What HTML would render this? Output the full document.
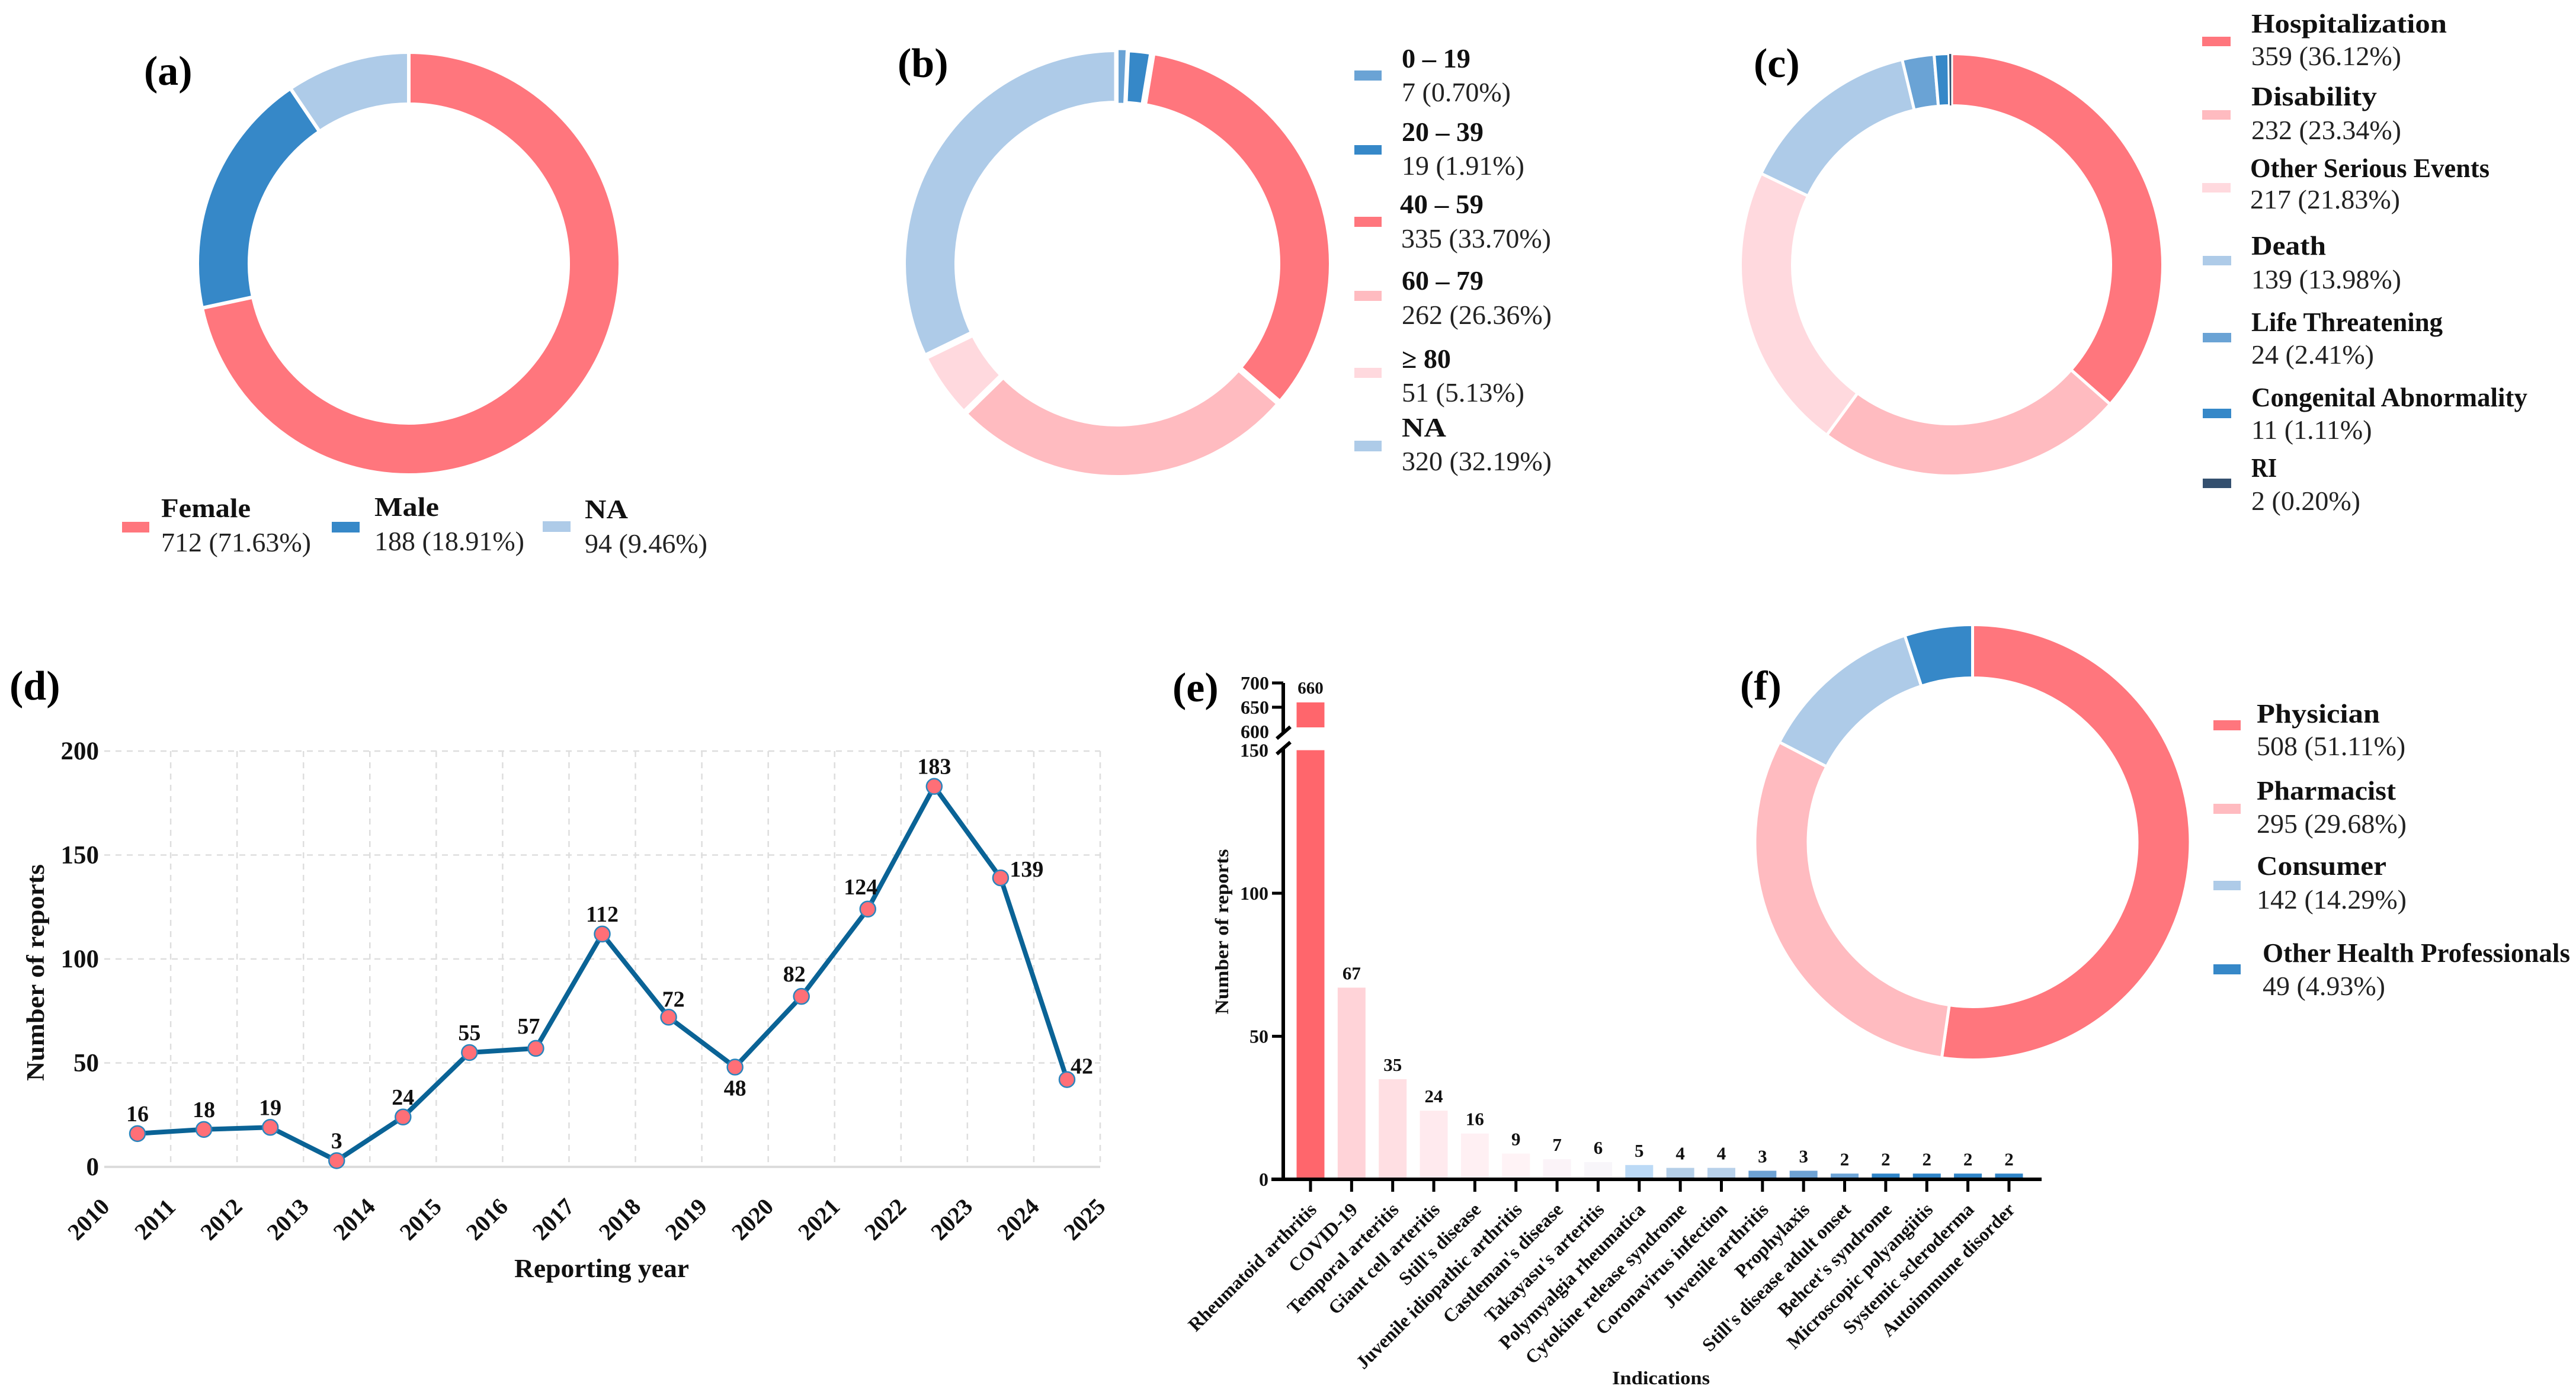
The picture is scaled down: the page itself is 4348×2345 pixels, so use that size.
<!DOCTYPE html>
<html lang="en">
<head>
<meta charset="utf-8">
<title>Report characteristics</title>
<style>
html,body{margin:0;padding:0;background:#fff}
svg{display:block}
text{font-family:"Liberation Serif",serif;fill:#111}
.lb{font-size:46px;font-weight:bold;fill:#111}
.lv{font-size:46px;fill:#222}
.pl{font-size:70px;font-weight:bold;fill:#000}
</style>
</head>
<body>
<svg id="figure" xmlns="http://www.w3.org/2000/svg" width="4348" height="2345" viewBox="0 0 4348 2345">
<rect x="0" y="0" width="4348" height="2345" fill="#fff"/>
<g id="donut-a"></g>
<g id="donut-b"></g>
<g id="donut-c"></g>
<g id="donut-f"></g>
<g id="line-d"></g>
<g id="bars-e"></g>

<text class="pl" x="243" y="143">(a)</text>
<text class="pl" x="1515" y="130">(b)</text>
<text class="pl" x="2960" y="130">(c)</text>
<text class="pl" x="16" y="1181">(d)</text>
<text class="pl" x="1979" y="1184">(e)</text>
<text class="pl" x="2937" y="1181">(f)</text>

<g>
<g><rect x="206" y="881" width="46" height="18" fill="#ff767d"/><text class="lb" x="272" y="873" textLength="151" lengthAdjust="spacingAndGlyphs">Female</text><text class="lv" x="272" y="931">712 (71.63%)</text></g>
<g><rect x="560" y="881" width="47" height="18" fill="#3688c8"/><text class="lb" x="632" y="871" textLength="109" lengthAdjust="spacingAndGlyphs">Male</text><text class="lv" x="632" y="929">188 (18.91%)</text></g>
<g><rect x="916" y="880" width="47" height="18" fill="#aecbe8"/><text class="lb" x="987" y="875" textLength="73" lengthAdjust="spacingAndGlyphs">NA</text><text class="lv" x="987" y="933">94 (9.46%)</text></g>
</g>

<g>
<g><rect x="2286" y="119" width="46" height="17" fill="#6aa3d5"/><text class="lb" x="2366" y="114" textLength="116" lengthAdjust="spacingAndGlyphs">0 – 19</text><text class="lv" x="2366" y="171">7 (0.70%)</text></g>
<g><rect x="2286" y="245" width="46" height="16" fill="#3688c8"/><text class="lb" x="2366" y="238" textLength="138" lengthAdjust="spacingAndGlyphs">20 – 39</text><text class="lv" x="2366" y="295">19 (1.91%)</text></g>
<g><rect x="2286" y="366" width="46" height="17" fill="#ff767d"/><text class="lb" x="2363" y="360" textLength="141" lengthAdjust="spacingAndGlyphs">40 – 59</text><text class="lv" x="2365" y="418">335 (33.70%)</text></g>
<g><rect x="2286" y="491" width="46" height="17" fill="#ffbbc0"/><text class="lb" x="2366" y="489" textLength="138" lengthAdjust="spacingAndGlyphs">60 – 79</text><text class="lv" x="2366" y="547">262 (26.36%)</text></g>
<g><rect x="2286" y="621" width="46" height="17" fill="#ffd9de"/><text class="lb" x="2366" y="621" textLength="83" lengthAdjust="spacingAndGlyphs">≥ 80</text><text class="lv" x="2366" y="678">51 (5.13%)</text></g>
<g><rect x="2286" y="744" width="46" height="18" fill="#aecbe8"/><text class="lb" x="2366" y="737" textLength="75" lengthAdjust="spacingAndGlyphs">NA</text><text class="lv" x="2366" y="794">320 (32.19%)</text></g>
</g>

<g>
<g><rect x="3717" y="62" width="48" height="16" fill="#ff767d"/><text class="lb" x="3800" y="55" textLength="330" lengthAdjust="spacingAndGlyphs">Hospitalization</text><text class="lv" x="3800" y="110">359 (36.12%)</text></g>
<g><rect x="3717" y="186" width="48" height="16" fill="#ffbbc0"/><text class="lb" x="3800" y="178" textLength="212" lengthAdjust="spacingAndGlyphs">Disability</text><text class="lv" x="3800" y="235">232 (23.34%)</text></g>
<g><rect x="3717" y="309" width="48" height="16" fill="#ffd9de"/><text class="lb" x="3798" y="299" textLength="404" lengthAdjust="spacingAndGlyphs">Other Serious Events</text><text class="lv" x="3798" y="352">217 (21.83%)</text></g>
<g><rect x="3718" y="432" width="48" height="16" fill="#aecbe8"/><text class="lb" x="3800" y="430" textLength="126" lengthAdjust="spacingAndGlyphs">Death</text><text class="lv" x="3800" y="487">139 (13.98%)</text></g>
<g><rect x="3718" y="562" width="48" height="16" fill="#6aa3d5"/><text class="lb" x="3800" y="559" textLength="323" lengthAdjust="spacingAndGlyphs">Life Threatening</text><text class="lv" x="3800" y="614">24 (2.41%)</text></g>
<g><rect x="3718" y="690" width="48" height="16" fill="#3688c8"/><text class="lb" x="3800" y="686" textLength="466" lengthAdjust="spacingAndGlyphs">Congenital Abnormality</text><text class="lv" x="3800" y="741">11 (1.11%)</text></g>
<g><rect x="3718" y="808" width="48" height="16" fill="#34506f"/><text class="lb" x="3800" y="805" textLength="43" lengthAdjust="spacingAndGlyphs">RI</text><text class="lv" x="3800" y="861">2 (0.20%)</text></g>
</g>

<g>
<g><rect x="3736" y="1216" width="46" height="17" fill="#ff767d"/><text class="lb" x="3809" y="1220" textLength="208" lengthAdjust="spacingAndGlyphs">Physician</text><text class="lv" x="3809" y="1275">508 (51.11%)</text></g>
<g><rect x="3736" y="1357" width="46" height="17" fill="#ffbbc0"/><text class="lb" x="3809" y="1350" textLength="235" lengthAdjust="spacingAndGlyphs">Pharmacist</text><text class="lv" x="3809" y="1406">295 (29.68%)</text></g>
<g><rect x="3736" y="1487" width="46" height="16" fill="#aecbe8"/><text class="lb" x="3809" y="1477" textLength="219" lengthAdjust="spacingAndGlyphs">Consumer</text><text class="lv" x="3809" y="1534">142 (14.29%)</text></g>
<g><rect x="3736" y="1628" width="46" height="17" fill="#3688c8"/><text class="lb" x="3819" y="1624" textLength="519" lengthAdjust="spacingAndGlyphs">Other Health Professionals</text><text class="lv" x="3819" y="1680">49 (4.93%)</text></g>
</g>
</svg>

<script>
// Panel (a) sex
const sexLabels = ['Female', 'Male', 'NA'];
const sexCounts = [712, 188, 94];
// Panel (b) age
const ageLabels = ['0-19', '20-39', '40-59', '60-79', '80-plus', 'NA'];
const ageCounts = [7, 19, 335, 262, 51, 320];
// Panel (c) outcome
const outcomeLabels = ['Hospitalization', 'Disability', 'Other Serious Events', 'Death', 'Life Threatening', 'Congenital Abnormality', 'RI'];
const outcomeCounts = [359, 232, 217, 139, 24, 11, 2];
// Panel (f) reporter: the Consumer arc in the picture reads about 120, smaller than its printed count of 142
const reporterLabels = ['Physician', 'Pharmacist', 'Consumer', 'Other Health Professionals'];
const reporterCounts = [508, 295, 120, 49];
// Panel (d) yearly reports
const yearTickLabels = ['2010', '2011', '2012', '2013', '2014', '2015', '2016', '2017', '2018', '2019', '2020', '2021', '2022', '2023', '2024', '2025'];
const yearlyReports = [16, 18, 19, 3, 24, 55, 57, 112, 72, 48, 82, 124, 183, 139, 42];
const reportTicks = [0, 50, 100, 150, 200];
const yearlyLabelSides = ['above', 'above', 'above', 'above', 'above', 'above', 'aboveleft', 'above', 'aboveright', 'below', 'aboveleft', 'aboveleft', 'above', 'right', 'upright'];
// Panel (e) indications
const indicationNames = ['Rheumatoid arthritis', 'COVID-19', 'Temporal arteritis', 'Giant cell arteritis', "Still's disease", 'Juvenile idiopathic arthritis', "Castleman's disease", "Takayasu's arteritis", 'Polymyalgia rheumatica', 'Cytokine release syndrome', 'Coronavirus infection', 'Juvenile arthritis', 'Prophylaxis', "Still's disease adult onset", "Behcet's syndrome", 'Microscopic polyangiitis', 'Systemic scleroderma', 'Autoimmune disorder'];
const indicationCounts = [660, 67, 35, 24, 16, 9, 7, 6, 5, 4, 4, 3, 3, 2, 2, 2, 2, 2];
const lowerTicks = [0, 50, 100, 150];
const upperTicks = [600, 650, 700];

const sexPalette = ['#ff767d', '#3688c8', '#aecbe8'];
const agePalette = ['#6aa3d5', '#3688c8', '#ff767d', '#ffbbc0', '#ffd9de', '#aecbe8'];
const outcomePalette = ['#ff767d', '#ffbbc0', '#ffd9de', '#aecbe8', '#6aa3d5', '#3688c8', '#34506f'];
const reporterPalette = ['#ff767d', '#ffbbc0', '#aecbe8', '#3688c8'];
const barPalette = ['#ff666c', '#ffd3d8', '#ffdfe3', '#ffeaee', '#fff0f3', '#fff3f6', '#fbf3f8', '#f8f6fa', '#bcdaf6', '#b5cfe8', '#b8d1ea', '#6ea2d3', '#6ea2d3', '#6da4d6', '#2f84c8', '#2f84c8', '#2f84c8', '#2f84c8'];

const NS = 'http://www.w3.org/2000/svg';
function mk(tag, attrs, parent, txt) {
  const n = document.createElementNS(NS, tag);
  for (const k in attrs) n.setAttribute(k, attrs[k]);
  if (txt !== undefined) n.textContent = txt;
  parent.appendChild(n);
  return n;
}
function slug(s) {
  return String(s).toLowerCase().replace(/[^a-z0-9]+/g, '-').replace(/^-|-$/g, '');
}

function drawDonut(groupId, labels, counts, palette, cx, cy, rOut, rIn, gap) {
  const g = document.getElementById(groupId);
  const total = counts.reduce((a, b) => a + b, 0);
  let acc = 0;
  const pieces = counts.map((v, i) => {
    const a0 = acc / total * 2 * Math.PI;
    acc += v;
    const a1 = acc / total * 2 * Math.PI;
    return { i, a0, a1, arc: (a1 - a0) * rOut };
  });
  pieces.sort((p, q) => q.arc - p.arc);
  pieces.forEach(p => {
    const sw = Math.min(gap, p.arc * 0.25);
    const R = rOut + gap / 2, r = rIn - gap / 2;
    const large = p.a1 - p.a0 > Math.PI ? 1 : 0;
    const pt = (rad, a) => (cx + rad * Math.sin(a)).toFixed(2) + ' ' + (cy - rad * Math.cos(a)).toFixed(2);
    const d = 'M' + pt(R, p.a0) + 'A' + R + ' ' + R + ' 0 ' + large + ' 1 ' + pt(R, p.a1) +
      'L' + pt(r, p.a1) + 'A' + r + ' ' + r + ' 0 ' + large + ' 0 ' + pt(r, p.a0) + 'Z';
    const s = mk('path', { d: d, fill: palette[p.i], stroke: '#fff', 'stroke-width': sw }, g);
    
    
  });
}
drawDonut('donut-a', sexLabels, sexCounts, sexPalette, 690, 445, 354, 272, 6);
drawDonut('donut-b', ageLabels, ageCounts, agePalette, 1886, 445, 357, 275, 11);
drawDonut('donut-c', outcomeLabels, outcomeCounts, outcomePalette, 3294, 447, 354, 271, 5);
drawDonut('donut-f', reporterLabels, reporterCounts, reporterPalette, 3329.5, 1422, 365, 280, 5);

// ---- Panel (d) ----
(function () {
  const g = document.getElementById('line-d');
  const x0 = 176, x1 = 1857, yBase = 1970, yTop = 1268;
  const step = (x1 - x0) / yearlyReports.length;
  const xTick = i => x0 + i * step;
  const xPoint = i => x0 + (i + 0.5) * step;
  const yVal = v => yBase - v / 200 * (yBase - yTop);

  yearTickLabels.forEach((lab, i) => {
    if (i > 0) {
      const gl = mk('line', { x1: xTick(i), x2: xTick(i), y1: yTop, y2: yBase, stroke: '#dedede', 'stroke-width': 2.5, 'stroke-dasharray': '10 9' }, g);
      
      
    }
    const t = mk('text', { transform: 'translate(' + (xTick(i) - 27) + ' 2058) rotate(-45)', y: 14, 'text-anchor': 'middle', 'font-size': 40, 'font-weight': 'bold' }, g, lab);
    
    
  });
  reportTicks.forEach(v => {
    if (v > 0) {
      const gl = mk('line', { x1: x0, x2: x1, y1: yVal(v), y2: yVal(v), stroke: '#dedede', 'stroke-width': 2.5, 'stroke-dasharray': '10 9' }, g);
      
      
    }
    const t = mk('text', { x: 167, y: yVal(v) + 14, 'text-anchor': 'end', 'font-size': 43, 'font-weight': 'bold' }, g, v);
    
    
  });
  const base = mk('line', { x1: x0, x2: x1, y1: yBase, y2: yBase, stroke: '#dcdcdc', 'stroke-width': 4 }, g);
  
  

  const pts = yearlyReports.map((v, i) => xPoint(i).toFixed(1) + ',' + yVal(v).toFixed(1)).join(' ');
  const line = mk('polyline', { points: pts, fill: 'none', stroke: '#0a6396', 'stroke-width': 8, 'stroke-linejoin': 'round' }, g);
  
  

  const sideDx = { above: 0, below: 0, right: 44, upright: 25, aboveright: 8, aboveleft: -12 };
  const sideDy = { above: -21, below: 48, right: -2, upright: -10, aboveright: -18, aboveleft: -25 };
  yearlyReports.forEach((v, i) => {
    const m = mk('circle', { cx: xPoint(i), cy: yVal(v), r: 13, fill: '#ff6f77', stroke: '#2a85bd', 'stroke-width': 2.5 }, g);
    
    
    const side = yearlyLabelSides[i];
    const t = mk('text', { x: xPoint(i) + sideDx[side], y: yVal(v) + sideDy[side], 'text-anchor': 'middle', 'font-size': 38, 'font-weight': 'bold' }, g, v);
    
    
  });
  const yt = mk('text', { transform: 'translate(74 1642) rotate(-90)', 'text-anchor': 'middle', 'font-size': 42, 'font-weight': 'bold', textLength: 366, lengthAdjust: 'spacingAndGlyphs' }, g, 'Number of reports');
  
  
  const xt = mk('text', { x: 868, y: 2156, 'font-size': 44, 'font-weight': 'bold', textLength: 295, lengthAdjust: 'spacingAndGlyphs' }, g, 'Reporting year');
  
  
})();

// ---- Panel (e) ----
(function () {
  const g = document.getElementById('bars-e');
  const axisX = 2166, yZero = 1991, barW = 47;
  const xBar = i => 2212 + i * 69.35;
  const yLower = v => yZero - v * 4.83;
  const yUpper = v => 1194 - (v - 650) * 0.82;
  const breakLow = 150, breakHigh = 600;

  indicationCounts.forEach((v, i) => {
    const cx = xBar(i);
    const low = mk('rect', { x: cx - barW / 2, y: yLower(Math.min(v, breakLow)), width: barW, height: yZero - yLower(Math.min(v, breakLow)), fill: barPalette[i] }, g);
    
    
    let top = yLower(v);
    let size = 31;
    if (v > breakLow) {
      const up = mk('rect', { x: cx - barW / 2, y: yUpper(v), width: barW, height: yUpper(breakHigh) - yUpper(v) - 7, fill: barPalette[i] }, g);
      
      
      top = yUpper(v);
      size = 29;
    }
    const t = mk('text', { x: cx, y: top - (v > breakLow ? 15 : 14), 'text-anchor': 'middle', 'font-size': size, 'font-weight': 'bold' }, g, v);
    
    
    const tick = mk('line', { x1: cx, x2: cx, y1: yZero, y2: 2012, stroke: '#000', 'stroke-width': 5 }, g);
    
    
    const lab = mk('text', { transform: 'translate(' + (cx + 12) + ' 2044) rotate(-45)', 'text-anchor': 'end', 'font-size': 32, 'font-weight': 'bold' }, g, indicationNames[i]);
    
    
  });

  const axes = [[axisX, 1153, axisX, 1236], [axisX, 1264, axisX, yZero + 3], [2146, yZero, 3446, yZero], [2155, 1247, 2178, 1227], [2155, 1273, 2178, 1253]];
  axes.forEach(a => {
    const l = mk('line', { x1: a[0], y1: a[1], x2: a[2], y2: a[3], stroke: '#000', 'stroke-width': 6 }, g);
    
    
  });
  lowerTicks.forEach(v => {
    if (v > 0 && v < breakLow) {
      const l = mk('line', { x1: 2147, x2: axisX, y1: yLower(v), y2: yLower(v), stroke: '#000', 'stroke-width': 5 }, g);
      
      
    }
    const t = mk('text', { x: 2141, y: yLower(v) + 11, 'text-anchor': 'end', 'font-size': 32, 'font-weight': 'bold' }, g, v);
    
    
  });
  upperTicks.forEach(v => {
    if (v > breakHigh) {
      const l = mk('line', { x1: 2147, x2: axisX, y1: yUpper(v), y2: yUpper(v), stroke: '#000', 'stroke-width': 5 }, g);
      
      
    }
    const t = mk('text', { x: 2142, y: yUpper(v) + 11, 'text-anchor': 'end', 'font-size': 32, 'font-weight': 'bold' }, g, v);
    
    
  });
  const yt = mk('text', { transform: 'translate(2073 1573) rotate(-90)', 'text-anchor': 'middle', 'font-size': 32, 'font-weight': 'bold', textLength: 279, lengthAdjust: 'spacingAndGlyphs' }, g, 'Number of reports');
  
  
  const xt = mk('text', { x: 2721, y: 2337, 'font-size': 32, 'font-weight': 'bold', textLength: 165, lengthAdjust: 'spacingAndGlyphs' }, g, 'Indications');
  
  
})();
</script>
</body>
</html>
